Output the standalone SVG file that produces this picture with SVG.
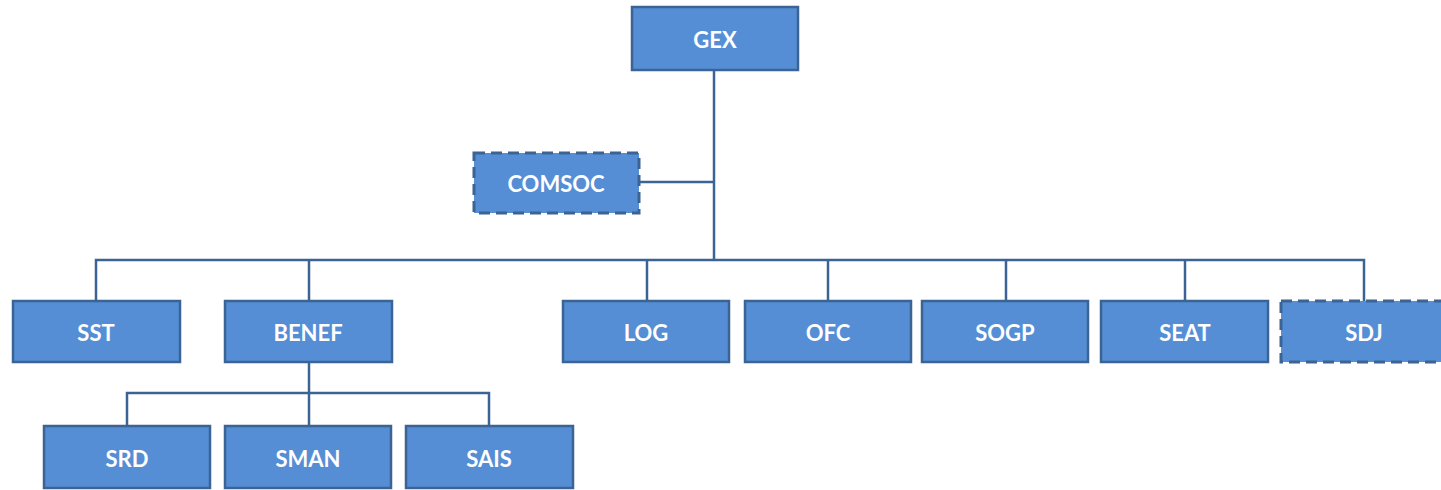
<svg xmlns="http://www.w3.org/2000/svg" width="1441" height="490" viewBox="0 0 1441 490">
<style>
.box{fill:#558ED5;stroke:#3B6494;stroke-width:2.5}
.dash{stroke-dasharray:11 6;stroke-width:3}
.lbl{fill:#FFFFFF;font-family:Lato,"Open Sans","Liberation Sans",sans-serif;font-weight:bold;font-size:22px;text-anchor:middle;dominant-baseline:central}
.ln{fill:none;stroke:#3B6494;stroke-width:2.5}
</style>
<rect width="1441" height="490" fill="#FFFFFF"/>
<g id="connectors">
<path class="ln" d="M714 70 V260"/>
<path class="ln" d="M639 182 H714"/>
<path class="ln" d="M96 301 V260 H1364 V301"/>
<path class="ln" d="M309 260 V301"/>
<path class="ln" d="M647 260 V301"/>
<path class="ln" d="M828 260 V301"/>
<path class="ln" d="M1006 260 V301"/>
<path class="ln" d="M1185 260 V301"/>
<path class="ln" d="M309 362 V426"/>
<path class="ln" d="M127 426 V393 H489 V426"/>
</g>
<g id="GEX"><rect class="box" x="632" y="7" width="166" height="63"/><text class="lbl" x="715" y="39">GEX</text></g>
<g id="COMSOC"><rect class="box dash" x="474" y="153" width="165" height="60"/><text class="lbl" x="556" y="183">COMSOC</text></g>
<g id="SST"><rect class="box" x="13" y="301" width="167" height="61"/><text class="lbl" x="96" y="332">SST</text></g>
<g id="BENEF"><rect class="box" x="225" y="301" width="167" height="61"/><text class="lbl" x="308" y="332">BENEF</text></g>
<g id="LOG"><rect class="box" x="563" y="301" width="166" height="61"/><text class="lbl" x="646" y="332">LOG</text></g>
<g id="OFC"><rect class="box" x="745" y="301" width="166" height="61"/><text class="lbl" x="828" y="332">OFC</text></g>
<g id="SOGP"><rect class="box" x="922" y="301" width="166" height="61"/><text class="lbl" x="1005" y="332">SOGP</text></g>
<g id="SEAT"><rect class="box" x="1101" y="301" width="167" height="61"/><text class="lbl" x="1185" y="332">SEAT</text></g>
<g id="SDJ"><rect class="box dash" x="1281" y="301" width="166" height="61"/><text class="lbl" x="1364" y="332">SDJ</text></g>
<g id="SRD"><rect class="box" x="44" y="426" width="166" height="62"/><text class="lbl" x="127" y="458">SRD</text></g>
<g id="SMAN"><rect class="box" x="225" y="426" width="166" height="62"/><text class="lbl" x="308" y="458">SMAN</text></g>
<g id="SAIS"><rect class="box" x="406" y="426" width="167" height="62"/><text class="lbl" x="489" y="458">SAIS</text></g>
</svg>
